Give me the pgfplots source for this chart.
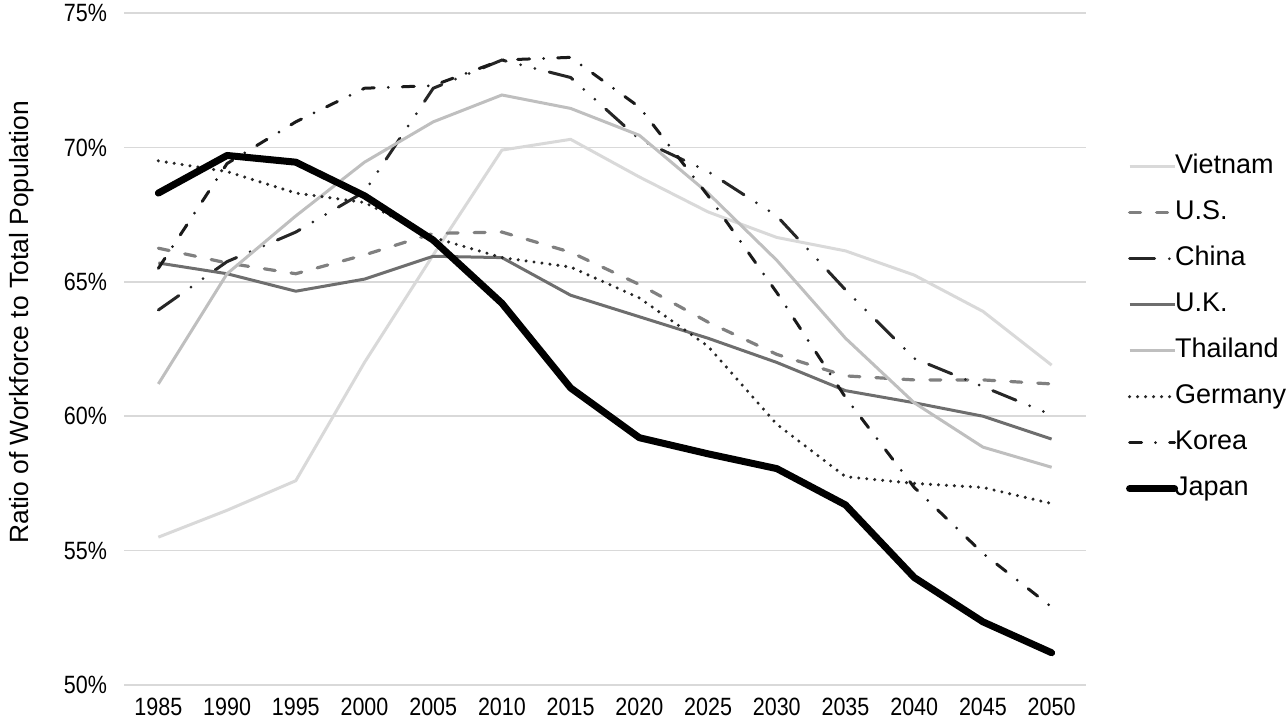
\documentclass[border=0pt]{standalone}
\usepackage{fontspec}
\setmainfont{Liberation Sans}
\usepackage{pgfplots}
\pgfplotsset{compat=1.18}
\newcommand\sx[1]{\scalebox{0.86}[1]{#1}}
\definecolor{cViet}{HTML}{D9D9D9}
\definecolor{cUS}{HTML}{808080}
\definecolor{cChina}{HTML}{262626}
\definecolor{cUK}{HTML}{6E6E6E}
\definecolor{cThai}{HTML}{BFBFBF}
\definecolor{cGer}{HTML}{262626}
\definecolor{cKor}{HTML}{1A1A1A}
\definecolor{cGrid}{HTML}{D9D9D9}
\begin{document}
\begin{tikzpicture}
\useasboundingbox (-62pt,-19pt) rectangle (582pt,342.5pt);
\begin{axis}[
  at={(0,0)}, anchor=south west,
  scale only axis, width=481pt, height=336pt,
  xmin=1982.5, xmax=2052.5, ymin=50, ymax=75,
  axis line style={draw=none}, major tick length=0pt,
  ymajorgrids, grid style={color=cGrid, line width=0.75pt},
  xtick={1985,1990,...,2050},
  xticklabels={\sx{1985},\sx{1990},\sx{1995},\sx{2000},\sx{2005},\sx{2010},\sx{2015},\sx{2020},\sx{2025},\sx{2030},\sx{2035},\sx{2040},\sx{2045},\sx{2050}},
  ytick={50,55,60,65,70,75},
  yticklabels={\sx{50\%},\sx{55\%},\sx{60\%},\sx{65\%},\sx{70\%},\sx{75\%}},
  tick label style={font=\fontsize{12.5}{15}\selectfont},
  xticklabel style={yshift=-3pt},
  yticklabel style={xshift=-5pt},
  ylabel={Ratio of Workforce to Total Population},
  ylabel style={font=\fontsize{13.2}{16}\selectfont, at={(axis description cs:-0.106,0.54)}, anchor=center},
  legend style={at={(axis description cs:1.035,0.798)}, anchor=north west, draw=none, fill=none,
    font=\fontsize{13.5}{16}\selectfont, row sep=9.5pt,
    nodes={inner sep=0.5pt, text height=9.7pt, text depth=2.8pt, anchor=west},
    /tikz/every odd column/.append style={column sep=-2pt}},
  legend cell align=left,
  legend image code/.code={\draw[#1] (0pt,0pt) -- (22.5pt,0pt);},
  clip=false,
]
\addplot[color=cViet, line width=1.5pt] coordinates {(1985,55.5)(1990,56.5)(1995,57.6)(2000,62.0)(2005,66.0)(2010,69.9)(2015,70.3)(2020,68.9)(2025,67.6)(2030,66.65)(2035,66.15)(2040,65.25)(2045,63.9)(2050,61.9)};
\addlegendentry{Vietnam}
\addplot[color=cUS, line width=1.6pt, line cap=round, dash pattern=on 5.5pt off 8pt] coordinates {(1985,66.25)(1990,65.7)(1995,65.3)(2000,66.0)(2005,66.8)(2010,66.85)(2015,66.1)(2020,64.9)(2025,63.5)(2030,62.3)(2035,61.5)(2040,61.35)(2045,61.35)(2050,61.2)};
\addlegendentry{U.S.}
\addplot[color=cChina, line width=1.5pt, line cap=round, dash pattern=on 12.5pt off 7.4pt on 0pt off 7.4pt on 0pt off 7.4pt] coordinates {(1985,63.95)(1990,65.75)(1995,66.85)(2000,68.35)(2005,72.2)(2010,73.25)(2015,72.6)(2020,70.3)(2025,69.1)(2030,67.45)(2035,64.7)(2040,62.15)(2045,61.1)(2050,60.05)};
\addlegendentry{China}
\addplot[color=cUK, line width=1.5pt] coordinates {(1985,65.7)(1990,65.3)(1995,64.65)(2000,65.1)(2005,65.95)(2010,65.9)(2015,64.5)(2020,63.7)(2025,62.9)(2030,62.0)(2035,60.95)(2040,60.5)(2045,60.0)(2050,59.15)};
\addlegendentry{U.K.}
\addplot[color=cThai, line width=1.5pt] coordinates {(1985,61.2)(1990,65.3)(1995,67.45)(2000,69.45)(2005,70.95)(2010,71.95)(2015,71.45)(2020,70.45)(2025,68.3)(2030,65.8)(2035,62.9)(2040,60.5)(2045,58.85)(2050,58.1)};
\addlegendentry{Thailand}
\addplot[color=cGer, line width=1.7pt, line cap=round, dash pattern=on 0pt off 4pt] coordinates {(1985,69.5)(1990,69.1)(1995,68.3)(2000,67.95)(2005,66.65)(2010,65.9)(2015,65.55)(2020,64.4)(2025,62.6)(2030,59.7)(2035,57.75)(2040,57.5)(2045,57.35)(2050,56.75)};
\addlegendentry{Germany}
\addplot[color=cKor, line width=1.5pt, line cap=round, dash pattern=on 6pt off 7pt on 0pt off 7pt] coordinates {(1985,65.5)(1990,69.4)(1995,70.95)(2000,72.2)(2005,72.3)(2010,73.25)(2015,73.35)(2020,71.5)(2025,68.2)(2030,64.6)(2035,60.7)(2040,57.35)(2045,54.9)(2050,52.9)};
\addlegendentry{Korea}
\addplot[color=black, line width=3.5pt, line cap=round, line join=round] coordinates {(1985,68.3)(1990,69.7)(1995,69.45)(2000,68.2)(2005,66.55)(2010,64.2)(2015,61.05)(2020,59.2)(2025,58.6)(2030,58.05)(2035,56.7)(2040,54.0)(2045,52.35)(2050,51.2)};
\addlegendentry{Japan}
\end{axis}
\end{tikzpicture}
\end{document}
